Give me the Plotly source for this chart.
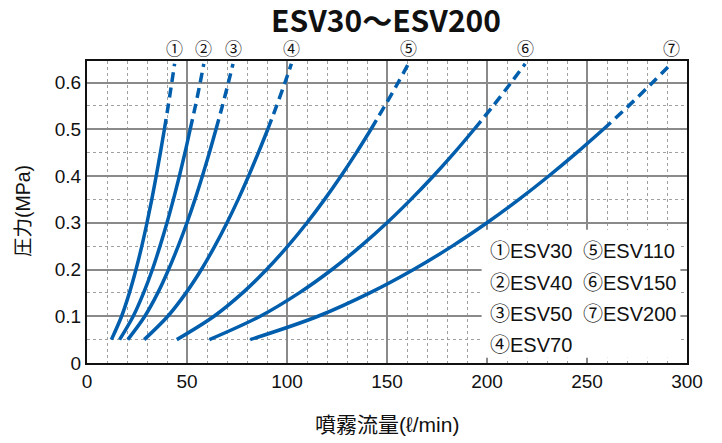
import plotly.graph_objects as go

# ---- data ----
pressure = [0.05, 0.10, 0.15, 0.20, 0.25, 0.30, 0.35, 0.40, 0.45, 0.50, 0.55, 0.60, 0.64]
SOLID_END = 10  # first 10 points solid (up to 0.5 MPa), rest dashed

flow_esv30 = [12.2, 17.3, 21.2, 24.5, 27.4, 30.0, 32.4, 34.6, 36.7, 38.7, 40.6, 42.4, 43.8]
flow_esv40 = [16.3, 23.1, 28.3, 32.7, 36.5, 40.0, 43.2, 46.2, 49.0, 51.6, 54.2, 56.6, 58.4]
flow_esv50 = [20.4, 28.9, 35.4, 40.8, 45.6, 50.0, 54.0, 57.7, 61.2, 64.5, 67.7, 70.7, 73.0]
flow_esv70 = [28.6, 40.4, 49.5, 57.2, 63.9, 70.0, 75.6, 80.8, 85.7, 90.4, 94.8, 99.0, 102.2]
flow_esv110 = [44.9, 63.5, 77.8, 89.8, 100.4, 110.0, 118.8, 127.0, 134.7, 142.0, 148.9, 155.6, 160.7]
flow_esv150 = [61.2, 86.6, 106.1, 122.5, 136.9, 150.0, 162.0, 173.2, 183.7, 193.6, 203.1, 212.1, 219.1]
flow_esv200 = [81.6, 115.5, 141.4, 163.3, 182.6, 200.0, 216.0, 230.9, 244.9, 258.2, 270.8, 282.8, 292.1]

models = ["ESV30", "ESV40", "ESV50", "ESV70", "ESV110", "ESV150", "ESV200"]
markers = ["①", "②", "③", "④", "⑤", "⑥", "⑦"]
flows = [flow_esv30, flow_esv40, flow_esv50, flow_esv70, flow_esv110, flow_esv150, flow_esv200]

title_text = "ESV30～ESV200"
x_title = "噴霧流量(ℓ/min)"
y_title = "圧力(MPa)"
x_ticks = [0, 50, 100, 150, 200, 250, 300]
y_ticks = [0, 0.1, 0.2, 0.3, 0.4, 0.5, 0.6]
y_tick_labels = ["0", "0.1", "0.2", "0.3", "0.4", "0.5", "0.6"]

# ---- styling ----
BLUE = "#005EAD"
LATIN = "Liberation Sans, Arial, Noto Sans CJK JP, sans-serif"
CJK = "Noto Sans CJK JP, sans-serif"

# page body has an 8px margin; screen px -> figure px
OFF = 8
W, H = 722, 443
L, R, T, B = 87 - OFF, 35 + OFF, 61 - OFF, 80 + OFF
pw, ph = W - L - R, H - T - B


def px_to_paper(x, y):
    x -= OFF
    y -= OFF
    return (x - L) / pw, (H - B - y) / ph


fig = go.Figure()
for name, f in zip(models, flows):
    fig.add_trace(go.Scatter(
        x=f[:SOLID_END], y=pressure[:SOLID_END], mode="lines",
        line=dict(color=BLUE, width=3.5, shape="spline"), name=name,
        showlegend=False, hoverinfo="skip"))
    fig.add_trace(go.Scatter(
        x=f[SOLID_END - 1:], y=pressure[SOLID_END - 1:], mode="lines",
        line=dict(color=BLUE, width=3.5, dash="10px,6px", shape="spline"),
        showlegend=False, hoverinfo="skip"))

annotations = []
# circled numbers above the curve tops
_, circ_y = px_to_paper(0, 48)
for m, f in zip(markers, flows):
    annotations.append(dict(x=f[-1], y=circ_y, xref="x", yref="paper", text=m,
                            xanchor="center", yanchor="middle",
                            showarrow=False, font=dict(family=CJK, size=17, color="#111")))

# legend box text
leg_y = [0.2398, 0.172, 0.1056, 0.0377]
for i, (m, name) in enumerate(zip(markers, models)):
    col = 0 if i < 4 else 1
    row = i if i < 4 else i - 4
    annotations.append(dict(x=200.3 if col == 0 else 246.8, y=leg_y[row], xref="x", yref="y",
                            xanchor="left", yanchor="middle", text=m + name, showarrow=False,
                            font=dict(family=LATIN, size=20, color="#111")))

tx, ty = px_to_paper(386, 19)
annotations.append(dict(x=tx, y=ty, xref="paper", yref="paper", text=title_text,
                        xanchor="center", yanchor="middle", showarrow=False,
                        font=dict(family="Noto Sans CJK JP", size=30, color="#111", weight="bold")))
tx, ty = px_to_paper(387, 424)
annotations.append(dict(x=tx, y=ty, xref="paper", yref="paper", text=x_title, showarrow=False,
                        xanchor="center", yanchor="middle",
                        font=dict(family=LATIN, size=21, color="#111")))
tx, ty = px_to_paper(23, 211)
annotations.append(dict(x=tx, y=ty, xref="paper", yref="paper", text=y_title, showarrow=False,
                        xanchor="center", yanchor="middle",
                        textangle=-90, font=dict(family=LATIN, size=19.5, color="#111")))
fig.update_layout(annotations=annotations)

# white legend background (between grid and traces)
fig.add_shape(type="rect", x0=197.3, x1=296.7, y0=0.011, y1=0.285, xref="x", yref="y",
              fillcolor="white", line=dict(width=0), layer="between")

fig.update_layout(
    width=W, height=H, margin=dict(l=L, r=R, t=T, b=B),
    paper_bgcolor="white", plot_bgcolor="white",
)
fig.update_xaxes(
    range=[0, 300], tickvals=x_ticks, ticks="", showline=True, linecolor="#111", linewidth=2,
    mirror=True, showgrid=True, gridcolor="#8a8a8a", gridwidth=1.5, zeroline=False,
    tickfont=dict(family=LATIN, size=19, color="#111"),
    minor=dict(dtick=10, showgrid=True, gridcolor="#a0a0a0", gridwidth=1, griddash="3px,3px"),
)
fig.update_yaxes(
    range=[0, 0.646], tickvals=y_ticks, ticktext=y_tick_labels, ticks="", showline=True,
    linecolor="#111", linewidth=2, mirror=True, showgrid=True, gridcolor="#8a8a8a", gridwidth=1.5,
    zeroline=False, tickfont=dict(family=LATIN, size=19, color="#111"),
    minor=dict(dtick=0.05, showgrid=True, gridcolor="#a0a0a0", gridwidth=1, griddash="3px,3px"),
)

fig.write_html("out.html")
